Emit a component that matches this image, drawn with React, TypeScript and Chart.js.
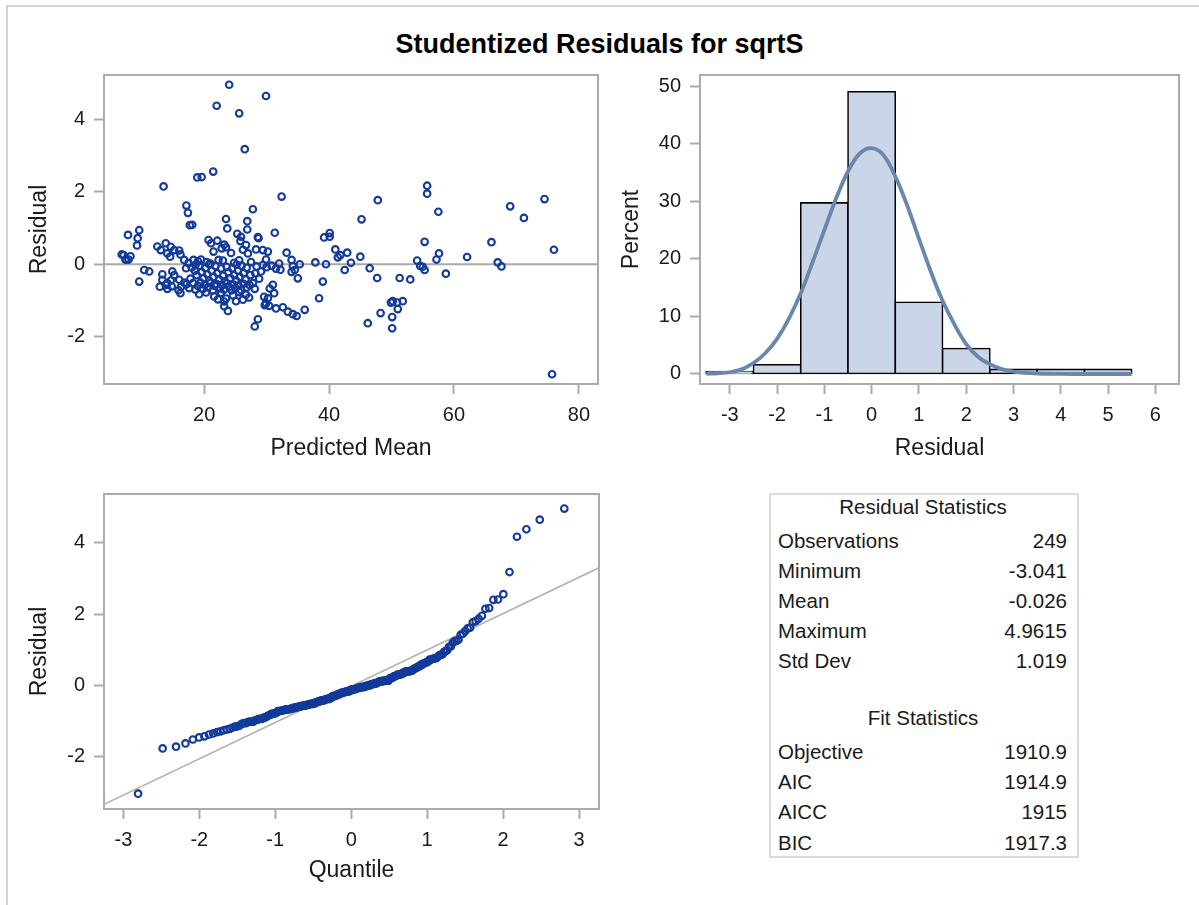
import React, { useEffect, useRef } from "react";
import { Chart, registerables } from "chart.js";

Chart.register(...registerables);

const FONT = '"Liberation Sans", Arial, Helvetica, sans-serif';
const TEXT = "#1a1a1a";
const FRAME = "#ababab";
const MARKER = "#123a9a";

// ---------------- data ----------------
// Predicted mean (x) and studentized residual (y) of each observation
const predictedMean = [
  24.0, 29.9, 22.0, 25.6, 26.5, 21.45,
  18.9, 19.6, 13.5, 55.7, 55.7, 32.4, 74.5, 47.8, 17.15, 69.0, 27.8,
  57.5, 17.4, 71.2, 23.5, 45.2, 26.9, 17.7, 18.1,
  23.7, 26.9, 9.6, 40.1, 31.3, 25.3, 7.8, 25.9, 28.6, 39.2,
  40.1, 9.35, 28.7, 20.7, 22.1, 25.8, 66.0, 55.3, 21.1, 13.85,
  9.25, 26.7, 23.2,
  76.0, 62.1, 57.6, 41.0, 41.4, 42.9, 45.0, 41.8, 33.2, 29.4,
  28.3, 27.0, 23.5, 12.5, 13.05, 14.65, 15.2, 16.0, 14.1, 16.2,
  7.1, 8.2, 6.8, 30.2, 21.5, 22.8, 24.3, 26.2, 14.55,
  57.2, 54.1, 43.5, 34.0, 35.3, 37.8, 39.5, 67.0, 29.9, 16.8,
  18.3, 7.5, 7.9, 7.4, 19.0, 19.5, 20.4, 21.0, 23.0, 27.5,
  25.6, 24.8, 22.3, 67.6, 54.6, 55.0, 46.5, 34.2, 17.1, 29.4,
  30.0, 30.8, 31.5, 18.0, 19.2, 20.2, 21.8, 23.6, 26.0, 24.5,
  22.7, 26.8, 28.4, 20.8, 25.2, 17.5, 32.0, 18.6,
  55.3, 58.7, 42.5, 47.7, 51.3, 53.0, 34.5, 35.0, 34.0, 39.0,
  10.4, 11.2, 9.6, 13.3, 13.3, 14.9, 15.2, 16.0, 14.65, 32.2,
  28.2, 28.8, 29.1, 18.5, 18.8, 19.6, 19.9, 20.5, 20.8, 21.2,
  21.5, 22.1, 22.4, 23.0, 23.3, 23.9, 24.2, 24.8, 25.1, 25.4,
  25.7, 26.3, 26.6, 27.4, 17.8,
  31.0, 13.85, 14.1, 14.1, 14.8, 15.9, 16.3, 17.2, 17.6, 18.2,
  18.6, 19.0, 19.4, 19.8, 20.1, 20.6, 21.0, 21.4, 21.7, 22.0,
  22.5, 22.9, 23.2, 23.6, 24.0, 24.4, 24.7, 25.0, 25.5, 25.9,
  26.3, 26.8, 27.3, 27.8, 28.1, 30.5, 12.9, 16.8,
  49.9, 50.2, 50.9, 51.8, 38.4, 30.2, 31.2, 29.6, 29.9, 21.6,
  23.2, 26.2, 26.7, 16.2, 22.2, 25.1, 27.2, 22.7, 23.5, 24.6,
  20.3, 19.2, 25.6,
  50.1, 34.8, 34.2, 48.25, 33.4, 23.8, 36.1, 51.0, 31.5, 32.6,
  30.4, 29.7, 23.2,
  75.7, 50.1, 28.1, 46.2, 28.6,
];

const residual = [
  4.96, 4.65, 4.38, 4.17, 3.18, 2.56,
  2.40, 2.41, 2.15, 2.17, 1.95, 1.87, 1.80, 1.77, 1.62, 1.60, 1.52,
  1.45, 1.42, 1.28, 1.25, 1.24, 1.19, 1.08, 1.09,
  0.99, 0.96, 0.94, 0.86, 0.87, 0.84, 0.81, 0.76, 0.75, 0.74,
  0.76, 0.72, 0.72, 0.67, 0.65, 0.64, 0.61, 0.62, 0.58, 0.58,
  0.52, 0.53, 0.54,
  0.40, 0.20, 0.30, 0.41, 0.19, 0.32, 0.21, 0.25, 0.32, 0.39,
  0.41, 0.30, 0.47, 0.49, 0.39, 0.48, 0.39, 0.38, 0.30, 0.27,
  0.25, 0.22, 0.27, 0.35, 0.35, 0.44, 0.31, 0.40, 0.21,
  0.13, 0.10, 0.04, 0.12, 0.00, 0.05, 0.00, 0.05, 0.13, 0.12,
  0.12, 0.13, 0.13, 0.13, 0.08, 0.13, 0.06, 0.02, 0.10, 0.06,
  0.11, 0.04, 0.12, -0.06, -0.05, -0.07, -0.11, -0.05, -0.11, -0.02,
  -0.08, -0.04, -0.12, -0.09, -0.04, -0.11, -0.05, -0.07, -0.04, -0.12,
  -0.12, -0.10, -0.06, 0.00, -0.01, 0.03, 0.02, -0.02,
  -0.16, -0.26, -0.16, -0.38, -0.38, -0.42, -0.16, -0.39, -0.21, -0.48,
  -0.16, -0.20, -0.48, -0.28, -0.43, -0.20, -0.30, -0.43, -0.45, -0.15,
  -0.25, -0.40, -0.20, -0.18, -0.30, -0.22, -0.38, -0.28, -0.45, -0.18,
  -0.35, -0.25, -0.42, -0.32, -0.47, -0.22, -0.38, -0.30, -0.45, -0.18,
  -0.35, -0.25, -0.42, -0.30, -0.40,
  -0.57, -0.57, -0.68, -0.52, -0.61, -0.72, -0.62, -0.55, -0.66, -0.52,
  -0.70, -0.60, -0.51, -0.68, -0.57, -0.64, -0.52, -0.72, -0.60, -0.55,
  -0.67, -0.58, -0.70, -0.53, -0.63, -0.72, -0.56, -0.66, -0.59, -0.71,
  -0.54, -0.64, -0.58, -0.52, -0.68, -0.67, -0.62, -0.51,
  -1.06, -1.02, -1.06, -1.02, -0.94, -0.94, -0.80, -0.90, -1.08, -0.89,
  -1.03, -0.98, -0.84, -0.80, -0.97, -1.02, -0.92, -0.79, -0.95, -0.86,
  -0.78, -0.83, -0.77,
  -1.46, -1.43, -1.38, -1.35, -1.31, -1.29, -1.26, -1.24, -1.22, -1.19,
  -1.15, -1.13, -1.16,
  -3.04, -1.77, -1.72, -1.63, -1.52,
];

const scatterXTicks = [20, 40, 60, 80];
const residualTicks = [-2, 0, 2, 4];

// Histogram of residuals (bin centres, percent) and the overlaid density curve
const binCenter = [-3, -2, -1, 0, 1, 2, 3, 4, 5];
const binPercent = [0.4, 1.6, 29.7, 49.0, 12.45, 4.42, 0.8, 0.8, 0.8];
const densityX = [
  -3.5, -3.25, -3, -2.75, -2.5, -2.25, -2, -1.75, -1.5, -1.25, -1, -0.75,
  -0.5, -0.25, 0, 0.25, 0.5, 0.75, 1, 1.25, 1.5, 1.75, 2, 2.25, 2.5, 2.75,
  3, 3.25, 3.5, 4, 4.5, 5, 5.5,
];
const densityY = [
  0.05, 0.12, 0.3, 0.8, 1.9, 3.6, 6.1, 9.6, 14.0, 19.4, 25.0, 30.5,
  35.2, 38.3, 39.2, 38.0, 34.3, 29.3, 23.5, 17.8, 12.7, 8.6, 5.2, 3.0, 1.7, 0.85,
  0.4, 0.18, 0.08, 0.01, 0, 0, 0,
];
const histXTicks = [-3, -2, -1, 0, 1, 2, 3, 4, 5, 6];
const histYTicks = [0, 10, 20, 30, 40, 50];

// Q-Q plot
const qqXTicks = [-3, -2, -1, 0, 1, 2, 3];
const qqLineX = [-3.4, 3.4];
const qqLineY = [-3.49, 3.44];

// Statistics table
const residualStatLabels = ["Observations", "Minimum", "Mean", "Maximum", "Std Dev"];
const residualStatValues = ["249", "-3.041", "-0.026", "4.9615", "1.019"];
const fitStatLabels = ["Objective", "AIC", "AICC", "BIC"];
const fitStatValues = ["1910.9", "1914.9", "1915", "1917.3"];

// ---------------- helpers ----------------
function invNorm(p: number): number {
  const a = [-3.969683028665376e1, 2.209460984245205e2, -2.759285104469687e2, 1.38357751867269e2, -3.066479806614716e1, 2.506628277459239];
  const b = [-5.447609879822406e1, 1.615858368580409e2, -1.556989798598866e2, 6.680131188771972e1, -1.328068155288572e1];
  const c = [-7.784894002430293e-3, -3.223964580411365e-1, -2.400758277161838, -2.549732539343734, 4.374664141464968, 2.938163982698783];
  const d = [7.784695709041462e-3, 3.224671290700398e-1, 2.445134137142996, 3.754408661907416];
  const pl = 0.02425;
  if (p < pl) {
    const q = Math.sqrt(-2 * Math.log(p));
    return (((((c[0] * q + c[1]) * q + c[2]) * q + c[3]) * q + c[4]) * q + c[5]) / ((((d[0] * q + d[1]) * q + d[2]) * q + d[3]) * q + 1);
  }
  if (p <= 1 - pl) {
    const q = p - 0.5;
    const r = q * q;
    return ((((((a[0] * r + a[1]) * r + a[2]) * r + a[3]) * r + a[4]) * r + a[5]) * q) / (((((b[0] * r + b[1]) * r + b[2]) * r + b[3]) * r + b[4]) * r + 1);
  }
  const q = Math.sqrt(-2 * Math.log(1 - p));
  return -(((((c[0] * q + c[1]) * q + c[2]) * q + c[3]) * q + c[4]) * q + c[5]) / ((((d[0] * q + d[1]) * q + d[2]) * q + d[3]) * q + 1);
}

const framePlugin = {
  id: "frame",
  beforeDatasetsDraw(chart: any) {
    const { ctx, chartArea: a } = chart;
    ctx.save();
    ctx.strokeStyle = FRAME;
    ctx.lineWidth = 2;
    ctx.strokeRect(a.left, a.top, a.right - a.left, a.bottom - a.top);
    ctx.restore();
  },
};

const TICK_SIZE = 20;
const TITLE_SIZE = 23;

function xAxis(min: number, max: number, ticks: number[], title: string, height: number, titlePad: number, tickPad: number) {
  return {
    type: "linear",
    position: "bottom",
    min,
    max,
    bounds: "data",
    offset: false,
    afterBuildTicks: (s: any) => {
      s.ticks = ticks.map((v) => ({ value: v }));
    },
    afterFit: (s: any) => {
      s.height = height;
      s.paddingLeft = 0;
      s.paddingRight = 0;
    },
    ticks: {
      autoSkip: false,
      maxRotation: 0,
      minRotation: 0,
      padding: tickPad,
      color: TEXT,
      font: { family: FONT, size: TICK_SIZE },
      callback: (v: any) => String(v),
    },
    grid: {
      display: true,
      drawOnChartArea: false,
      drawTicks: true,
      tickLength: 10,
      tickColor: FRAME,
      tickWidth: 2,
      color: FRAME,
      offset: false,
    },
    border: { display: false },
    title: {
      display: true,
      text: title,
      color: TEXT,
      font: { family: FONT, size: TITLE_SIZE },
      padding: { top: 0, bottom: titlePad },
    },
  };
}

function yAxis(min: number, max: number, ticks: number[], title: string, width: number, titlePad: number, tickPad: number) {
  return {
    type: "linear",
    position: "left",
    min,
    max,
    bounds: "data",
    afterBuildTicks: (s: any) => {
      s.ticks = ticks.map((v) => ({ value: v }));
    },
    afterFit: (s: any) => {
      s.width = width;
      s.paddingTop = 0;
      s.paddingBottom = 0;
    },
    ticks: {
      autoSkip: false,
      padding: tickPad,
      color: TEXT,
      font: { family: FONT, size: TICK_SIZE },
      callback: (v: any) => String(v),
    },
    grid: {
      display: true,
      drawOnChartArea: false,
      drawTicks: true,
      tickLength: 10,
      tickColor: FRAME,
      tickWidth: 2,
      color: FRAME,
    },
    border: { display: false },
    title: {
      display: true,
      text: title,
      color: TEXT,
      font: { family: FONT, size: TITLE_SIZE },
      padding: { top: titlePad, bottom: 0 },
    },
  };
}

const baseOptions = {
  responsive: false,
  animation: false,
  events: [],
  plugins: { legend: { display: false }, tooltip: { enabled: false } },
};

const markerStyle = {
  pointStyle: "circle",
  pointRadius: 3.3,
  borderWidth: 2.1,
  borderColor: MARKER,
  backgroundColor: "rgba(0,0,0,0)",
};

function scatterConfig(): any {
  const xMin = 3.96;
  const xMax = 83.06;
  const pts = predictedMean.map((x, i) => ({ x, y: residual[i] }));
  return {
    type: "scatter",
    data: {
      datasets: [
        {
          type: "line",
          data: [
            { x: xMin, y: 0 },
            { x: xMax, y: 0 },
          ],
          borderColor: "#a8a8a8",
          borderWidth: 2,
          pointRadius: 0,
          order: 2,
        },
        { type: "scatter", data: pts, ...markerStyle, order: 1 },
      ],
    },
    options: {
      ...baseOptions,
      layout: { padding: { left: 0, top: 15, right: 22, bottom: 0 } },
      scales: {
        x: xAxis(xMin, xMax, scatterXTicks, "Predicted Mean", 96, 18, 9),
        y: yAxis(-3.31, 5.23, residualTicks, "Residual", 104, 26, 9),
      },
    },
    plugins: [framePlugin],
  };
}

function histConfig(): any {
  return {
    type: "bar",
    data: {
      datasets: [
        {
          type: "bar",
          data: binCenter.map((x, i) => ({ x, y: binPercent[i] })),
          backgroundColor: "#cad5e7",
          borderColor: "#000000",
          borderWidth: 1.6,
          borderSkipped: false,
          inflateAmount: 0.8,
          barPercentage: 1,
          categoryPercentage: 1,
          order: 2,
        },
        {
          type: "line",
          data: densityX.map((x, i) => ({ x, y: densityY[i] })),
          borderColor: "#6b86ad",
          borderWidth: 3.8,
          pointRadius: 0,
          tension: 0.35,
          order: 1,
        },
      ],
    },
    options: {
      ...baseOptions,
      layout: { padding: { left: 0, top: 15, right: 20, bottom: 0 } },
      scales: {
        x: xAxis(-3.63, 6.5, histXTicks, "Residual", 96, 18, 9),
        y: yAxis(-1.74, 51.91, histYTicks, "Percent", 90, 8, 9),
      },
    },
    plugins: [framePlugin],
  };
}

function qqConfig(): any {
  const sorted = residual.slice().sort((a, b) => a - b);
  const n = sorted.length;
  const pts = sorted.map((y, i) => ({ x: invNorm((i + 1 - 0.375) / (n + 0.25)), y }));
  return {
    type: "scatter",
    data: {
      datasets: [
        {
          type: "line",
          data: qqLineX.map((x, i) => ({ x, y: qqLineY[i] })),
          borderColor: "#b4b4b4",
          borderWidth: 1.6,
          pointRadius: 0,
          order: 2,
        },
        { type: "scatter", data: pts, ...markerStyle, order: 1 },
      ],
    },
    options: {
      ...baseOptions,
      layout: { padding: { left: 0, top: 14, right: 21, bottom: 0 } },
      scales: {
        x: xAxis(-3.255, 3.263, qqXTicks, "Quantile", 96, 21, 9),
        y: yAxis(-3.47, 5.37, residualTicks, "Residual", 104, 26, 9),
      },
    },
    plugins: [framePlugin],
  };
}

function ChartCanvas(props: { left: number; top: number; width: number; height: number; build: () => any }) {
  const ref = useRef<HTMLCanvasElement>(null);
  useEffect(() => {
    const chart = new Chart(ref.current as HTMLCanvasElement, props.build());
    return () => chart.destroy();
  }, []);
  return (
    <canvas
      ref={ref}
      width={props.width}
      height={props.height}
      style={{ position: "absolute", left: props.left, top: props.top, width: props.width, height: props.height }}
    />
  );
}

const tableText: React.CSSProperties = {
  position: "absolute",
  fontFamily: FONT,
  fontSize: 20.5,
  color: TEXT,
  height: 30,
  lineHeight: "30px",
  whiteSpace: "nowrap",
};

function StatsTable() {
  const resRows = [541, 571, 601, 631, 661];
  const fitRows = [752, 782, 812, 843];
  const rows: any[] = [];
  const header = (text: string, cy: number) => (
    <div key={text} style={{ ...tableText, left: 769, width: 308, textAlign: "center", top: cy - 15 }}>
      {text}
    </div>
  );
  rows.push(header("Residual Statistics", 507));
  residualStatLabels.forEach((l, i) => {
    rows.push(
      <div key={"rl" + i} style={{ ...tableText, left: 778, top: resRows[i] - 15 }}>{l}</div>,
      <div key={"rv" + i} style={{ ...tableText, left: 900, width: 167, textAlign: "right", top: resRows[i] - 15 }}>{residualStatValues[i]}</div>
    );
  });
  rows.push(header("Fit Statistics", 718));
  fitStatLabels.forEach((l, i) => {
    rows.push(
      <div key={"fl" + i} style={{ ...tableText, left: 778, top: fitRows[i] - 15 }}>{l}</div>,
      <div key={"fv" + i} style={{ ...tableText, left: 900, width: 167, textAlign: "right", top: fitRows[i] - 15 }}>{fitStatValues[i]}</div>
    );
  });
  return (
    <>
      <div
        style={{
          position: "absolute",
          left: 769,
          top: 493,
          width: 310,
          height: 365,
          border: "2px solid #dadada",
          boxSizing: "border-box",
        }}
      />
      {rows}
    </>
  );
}

export default function App() {
  return (
    <div
      style={{
        position: "absolute",
        left: 0,
        top: 0,
        width: 1199,
        height: 905,
        overflow: "hidden",
        background: "#ffffff",
      }}
    >
      <div
        style={{
          position: "absolute",
          left: 6,
          top: 5,
          width: 1200,
          height: 910,
          borderTop: "2px solid #d4d4d4",
          borderLeft: "2px solid #d4d4d4",
        }}
      />
      <div
        style={{
          position: "absolute",
          left: 0,
          top: 28,
          width: 1199,
          height: 32,
          lineHeight: "32px",
          textAlign: "center",
          fontFamily: FONT,
          fontWeight: "bold",
          fontSize: 27,
          color: "#000",
        }}
      >
        Studentized Residuals for sqrtS
      </div>
      <ChartCanvas left={0} top={60} width={620} height={420} build={scatterConfig} />
      <ChartCanvas left={610} top={60} width={589} height={420} build={histConfig} />
      <ChartCanvas left={0} top={480} width={620} height={425} build={qqConfig} />
      <StatsTable />
    </div>
  );
}
